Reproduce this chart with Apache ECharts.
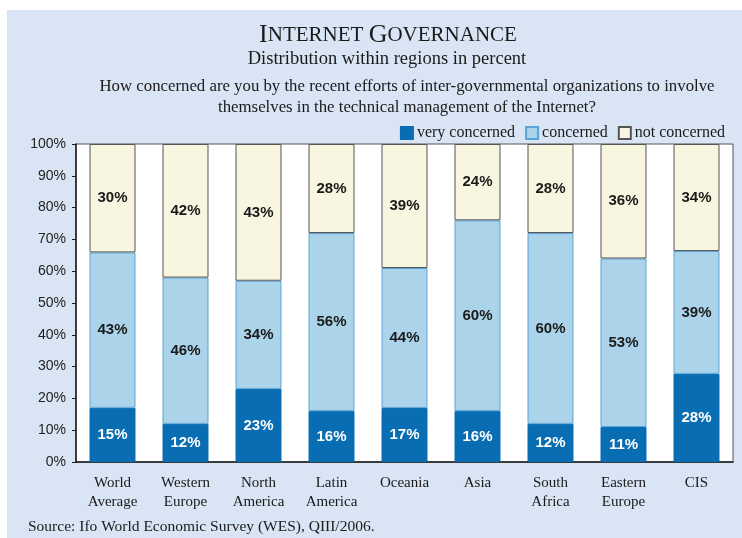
<!DOCTYPE html>
<html>
<head>
<meta charset="utf-8">
<script src="https://cdn.jsdelivr.net/npm/echarts@6/dist/echarts.min.js"></script>
<style>
html,body{margin:0;padding:0;background:#fff;}
#chart{width:742px;height:538px;}
</style>
</head>
<body>
<div id="chart"></div>
<script>
var categories = ['World\nAverage', 'Western\nEurope', 'North\nAmerica', 'Latin\nAmerica', 'Oceania', 'Asia', 'South\nAfrica', 'Eastern\nEurope', 'CIS'];
var veryConcerned = [15, 12, 23, 16, 17, 16, 12, 11, 28];
var concerned = [43, 46, 34, 56, 44, 60, 60, 53, 39];
var notConcerned = [30, 42, 43, 28, 39, 24, 28, 36, 34];
var seriesNames = ['very concerned', 'concerned', 'not concerned'];
var yTicks = [0, 10, 20, 30, 40, 50, 60, 70, 80, 90, 100];

var raw = [veryConcerned, concerned, notConcerned];
var totals = categories.map(function (_, i) { return veryConcerned[i] + concerned[i] + notConcerned[i]; });
function shares(arr) { return arr.map(function (v, i) { return v / totals[i] * 100; }); }

var SERIF = '"Liberation Serif", "DejaVu Serif", serif';
var SANS = '"Liberation Sans", Arial, sans-serif';

var fills = ['#086db3', '#abd3e9', '#f8f5e1'];
var borders = ['#086db3', '#5aa4d6', '#555555'];
var labelColors = ['#ffffff', '#1a1a1a', '#1a1a1a'];

var chart = echarts.init(document.getElementById('chart'));
var series = raw.map(function (arr, k) {
  return {
    name: seriesNames[k],
    type: 'bar',
    stack: 'total',
    barWidth: '63%',
    data: shares(arr),
    itemStyle: { color: fills[k], borderColor: borders[k], borderWidth: 1 },
    label: {
      show: true,
      position: 'inside',
      color: labelColors[k],
      fontFamily: SANS,
      fontWeight: 'bold',
      fontSize: 15,
      formatter: function (p) { return raw[k][p.dataIndex] + '%'; }
    }
  };
});

chart.setOption({
  animation: false,
  backgroundColor: '#ffffff',
  graphic: [
    { type: 'rect', z: -10, shape: { x: 7, y: 10, width: 742, height: 540 }, style: { fill: '#d9e5f4' } },
    { type: 'text', x: 388, y: 22, style: {
      text: '{a|I}{b|NTERNET }{a|G}{b|OVERNANCE}',
      textAlign: 'center',
      rich: {
        a: { fontFamily: SERIF, fontSize: 26, fill: '#1a1a1a' },
        b: { fontFamily: SERIF, fontSize: 21, fill: '#1a1a1a' }
      }
    }},
    { type: 'text', x: 387, y: 50, style: { text: 'Distribution within regions in percent', fontFamily: SERIF, fontSize: 18.5, fill: '#1a1a1a', textAlign: 'center' } },
    { type: 'text', x: 407, y: 76, style: { text: 'How concerned are you by the recent efforts of inter-governmental organizations to involve\nthemselves in the technical management of the Internet?', fontFamily: SERIF, fontSize: 16.8, lineHeight: 21, fill: '#1a1a1a', textAlign: 'center' } },
    { type: 'text', x: 28, y: 519, style: { text: 'Source: Ifo World Economic Survey (WES), QIII/2006.', fontFamily: SERIF, fontSize: 15.5, fill: '#1a1a1a' } }
  ],
  legend: {
    right: 12,
    top: 120,
    itemWidth: 12,
    itemHeight: 12,
    itemGap: 10,
    icon: 'rect',
    textStyle: { fontFamily: SERIF, fontSize: 16, color: '#1a1a1a', padding: [0, 0, 0, -1] },
    data: seriesNames
  },
  grid: {
    left: 76, right: 9, top: 144, bottom: 76,
    show: true, backgroundColor: '#ffffff', borderColor: '#555', borderWidth: 1
  },
  xAxis: {
    type: 'category',
    data: categories,
    axisLine: { lineStyle: { color: '#1a1a1a', width: 1.5 } },
    axisTick: { inside: true, length: 5, lineStyle: { color: '#1a1a1a' } },
    axisLabel: { fontFamily: SERIF, fontSize: 15, color: '#1a1a1a', lineHeight: 19, margin: 12 }
  },
  yAxis: {
    type: 'value',
    min: yTicks[0],
    max: yTicks[yTicks.length - 1],
    interval: 10,
    splitLine: { show: false },
    axisLine: { show: true, lineStyle: { color: '#1a1a1a', width: 1.5 } },
    axisTick: { show: true, length: 4, lineStyle: { color: '#1a1a1a' } },
    axisLabel: { fontFamily: SANS, fontSize: 14, color: '#222', margin: 10, formatter: '{value}%' }
  },
  series: series
});
</script>
</body>
</html>
